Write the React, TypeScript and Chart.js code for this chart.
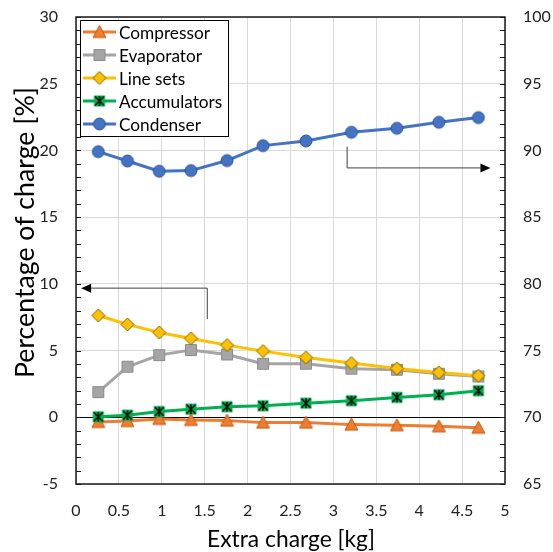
import React, { useEffect, useRef } from 'react';
import { Chart, registerables } from 'chart.js';
Chart.register(...registerables);

// ---- Data ----
const extraCharge = [0.26, 0.6, 0.97, 1.34, 1.76, 2.18, 2.68, 3.21, 3.74, 4.23, 4.69];
const compressor = [-0.35, -0.28, -0.12, -0.2, -0.25, -0.4, -0.4, -0.55, -0.6, -0.68, -0.78];
const evaporator = [1.89, 3.79, 4.66, 5.04, 4.71, 4.01, 4.01, 3.64, 3.56, 3.26, 3.06];
const lineSets = [7.63, 6.96, 6.36, 5.91, 5.41, 4.96, 4.48, 4.06, 3.66, 3.36, 3.11];
const accumulators = [0.04, 0.16, 0.43, 0.61, 0.79, 0.86, 1.06, 1.24, 1.49, 1.69, 1.99];
const condenser = [89.91, 89.21, 88.44, 88.49, 89.24, 90.36, 90.71, 91.36, 91.66, 92.11, 92.46];

const seriesNames = ['Compressor', 'Evaporator', 'Line sets', 'Accumulators', 'Condenser'];
const xTitle = 'Extra charge [kg]';
const yTitle = 'Percentage of charge [%]';

// annotation arrows (in data units): [x, y] path points; last point is arrow tip
const leftArrow = [[1.53, 7.36], [1.53, 9.68], [0.06, 9.68]]; // left axis
const rightArrow = [[3.16, 90.28], [3.16, 88.69], [4.83, 88.69]]; // right axis

const FONT = 'Lato, "Open Sans", sans-serif';

function makeMarker(kind: string, fill: string, stroke: string, size = 12) {
  const s = size + 4;
  const c = document.createElement('canvas');
  c.width = s; c.height = s;
  const ctx = c.getContext('2d')!;
  const m = s / 2, r = size / 2;
  ctx.fillStyle = fill; ctx.strokeStyle = stroke; ctx.lineWidth = 1;
  ctx.beginPath();
  if (kind === 'triangle') {
    ctx.moveTo(m, m - r); ctx.lineTo(m + r, m + r * 0.85); ctx.lineTo(m - r, m + r * 0.85); ctx.closePath();
  } else if (kind === 'square') {
    ctx.rect(m - r + 0.5, m - r + 0.5, size - 1, size - 1);
  } else if (kind === 'diamond') {
    ctx.moveTo(m, m - r); ctx.lineTo(m + r, m); ctx.lineTo(m, m + r); ctx.lineTo(m - r, m); ctx.closePath();
  } else if (kind === 'circle') {
    ctx.arc(m, m, r, 0, Math.PI * 2);
  }
  ctx.fill(); ctx.stroke();
  if (kind === 'star') {
    ctx.beginPath();
    ctx.rect(m - r + 0.5, m - r + 0.5, size - 1, size - 1);
    ctx.fill();
    ctx.strokeStyle = '#000'; ctx.lineWidth = 1.3;
    const q = r - 1.5;
    ctx.beginPath();
    ctx.moveTo(m - q, m - q); ctx.lineTo(m + q, m + q);
    ctx.moveTo(m + q, m - q); ctx.lineTo(m - q, m + q);
    ctx.moveTo(m, m - q - 0.5); ctx.lineTo(m, m + q + 0.5);
    ctx.stroke();
  }
  return c;
}

function fitSize(ctx: CanvasRenderingContext2D, text: string, target: number) {
  ctx.font = `100px ${FONT}`;
  return (100 * target) / ctx.measureText(text).width;
}

export default function App() {
  const ref = useRef<HTMLCanvasElement>(null);
  useEffect(() => {
    const canvas = ref.current!;
    const colors = ['#ED7D31', '#A5A5A5', '#FFC000', '#00B050', '#4472C4'];
    const markers = [
      makeMarker('triangle', '#ED7D31', '#C55A11', 13),
      makeMarker('square', '#A5A5A5', '#8C8C8C', 12),
      makeMarker('diamond', '#FFC000', '#7F6000', 13),
      makeMarker('star', '#00B050', '#00B050', 12),
      makeMarker('circle', '#4472C4', '#2F5597', 12),
    ];
    const values = [compressor, evaporator, lineSets, accumulators, condenser];

    const datasets = values.map((vals, i) => ({
      label: seriesNames[i],
      data: vals.map((v, j) => ({ x: extraCharge[j], y: v })),
      borderColor: colors[i],
      backgroundColor: colors[i],
      borderWidth: 3,
      pointStyle: markers[i] as any,
      pointRadius: 6,
      yAxisID: i === 4 ? 'y2' : 'y',
      order: 10 - i,
      tension: 0,
    }));

    const overlay = {
      id: 'overlay',
      afterDraw(chart: any) {
        const { ctx, chartArea: a, scales } = chart;
        const xs = scales.x, ys = scales.y, y2 = scales.y2;
        ctx.save();
        // border
        ctx.strokeStyle = '#1a1a1a';
        ctx.lineWidth = 1.5;
        ctx.strokeRect(a.left, a.top, a.right - a.left, a.bottom - a.top);
        // inward ticks
        ctx.lineWidth = 1;
        ctx.beginPath();
        for (let v = -5; v <= 30; v += 1) {
          const p = Math.round(ys.getPixelForValue(v)) + 0.5;
          ctx.moveTo(a.left, p); ctx.lineTo(a.left + 5, p);
        }
        for (let v = 65; v <= 100; v += 1) {
          const p = Math.round(y2.getPixelForValue(v)) + 0.5;
          ctx.moveTo(a.right, p); ctx.lineTo(a.right - 5, p);
        }
        ctx.stroke();

        // arrows
        const drawArrow = (pts: number[][], yScale: any) => {
          const P = pts.map(([x, y]) => [xs.getPixelForValue(x), yScale.getPixelForValue(y)]);
          ctx.strokeStyle = '#404040'; ctx.fillStyle = '#000'; ctx.lineWidth = 1;
          ctx.beginPath();
          const n = P.length;
          const [tx, ty] = P[n - 1];
          const [px, py] = P[n - 2];
          const dx = tx - px, dy = ty - py;
          const len = Math.hypot(dx, dy);
          const ux = dx / len, uy = dy / len;
          const hl = 10, hw = 4.5;
          ctx.moveTo(P[0][0], P[0][1]);
          for (let i = 1; i < n - 1; i++) ctx.lineTo(P[i][0], P[i][1]);
          ctx.lineTo(tx - ux * hl, ty - uy * hl);
          ctx.stroke();
          ctx.beginPath();
          ctx.moveTo(tx, ty);
          ctx.lineTo(tx - ux * hl - uy * hw, ty - uy * hl + ux * hw);
          ctx.lineTo(tx - ux * hl + uy * hw, ty - uy * hl - ux * hw);
          ctx.closePath();
          ctx.fill();
        };
        drawArrow(leftArrow, ys);
        drawArrow(rightArrow, y2);

        // legend
        const lx = a.left + 4, ly = a.top + 3, lw = 148, lh = 116;
        ctx.fillStyle = '#fff';
        ctx.fillRect(lx, ly, lw, lh);
        ctx.strokeStyle = '#000'; ctx.lineWidth = 1;
        ctx.strokeRect(lx + 0.5, ly + 0.5, lw, lh);
        const fs = fitSize(ctx, 'Compressor', 91);
        ctx.font = `${fs}px ${FONT}`;
        ctx.textBaseline = 'middle';
        ctx.textAlign = 'left';
        seriesNames.forEach((name, i) => {
          const cy = ly + 12 + i * 23;
          ctx.strokeStyle = colors[i]; ctx.lineWidth = 3;
          ctx.beginPath(); ctx.moveTo(lx + 3, cy); ctx.lineTo(lx + 36, cy); ctx.stroke();
          const mk = markers[i];
          ctx.drawImage(mk, lx + 19.5 - mk.width / 2, cy - mk.height / 2);
          ctx.fillStyle = '#000';
          ctx.fillText(name, lx + 39, cy + 1);
        });

        // axis titles
        ctx.fillStyle = '#000';
        ctx.textAlign = 'center';
        ctx.textBaseline = 'middle';
        const xf = fitSize(ctx, xTitle, 168);
        ctx.font = `${xf}px ${FONT}`;
        ctx.fillText(xTitle, 291, 540);
        const yf = fitSize(ctx, yTitle, 291);
        ctx.font = `${yf}px ${FONT}`;
        ctx.translate(25, 232.5);
        ctx.rotate(-Math.PI / 2);
        ctx.fillText(yTitle, 0, 0);
        ctx.restore();
      },
    };

    const noPad = (s: any) => {
      s.paddingTop = 0; s.paddingBottom = 0; s.paddingLeft = 0; s.paddingRight = 0;
    };
    const tickFont = { family: FONT, size: 16 };
    const chart = new Chart(canvas, {
      type: 'line',
      data: { datasets: datasets as any },
      options: {
        animation: false,
        responsive: false,
        maintainAspectRatio: false,
        layout: { padding: { top: 17, left: 0, right: 0, bottom: 0 } },
        plugins: { legend: { display: false }, tooltip: { enabled: false } },
        scales: {
          x: {
            type: 'linear',
            min: 0, max: 5,
            ticks: { stepSize: 0.5, font: tickFont, color: '#222', padding: 17, maxRotation: 0,
              callback: (v: any) => String(v) },
            grid: { color: '#d9d9d9', drawTicks: false, lineWidth: 1 },
            border: { display: false },
            afterFit: (s: any) => { s.height = 68; noPad(s); },
          },
          y: {
            type: 'linear', position: 'left',
            min: -5, max: 30,
            ticks: { stepSize: 5, font: tickFont, color: '#222', padding: 18 },
            grid: { color: (c: any) => (c.tick && c.tick.value === 0 ? '#000' : '#d9d9d9'), drawTicks: false },
            border: { display: false },
            afterFit: (s: any) => { s.width = 76; noPad(s); },
          },
          y2: {
            type: 'linear', position: 'right',
            min: 65, max: 100,
            ticks: { stepSize: 5, font: tickFont, color: '#222', padding: 18 },
            grid: { display: false, drawTicks: false },
            border: { display: false },
            afterFit: (s: any) => { s.width = 48; noPad(s); },
          },
        },
      } as any,
      plugins: [overlay],
    });
    return () => chart.destroy();
  }, []);

  return (
    <div style={{ position: 'fixed', left: 0, top: 0, width: 553, height: 552, background: '#fff' }}>
      <canvas ref={ref} width={553} height={552} style={{ width: 553, height: 552, display: 'block' }} />
    </div>
  );
}
